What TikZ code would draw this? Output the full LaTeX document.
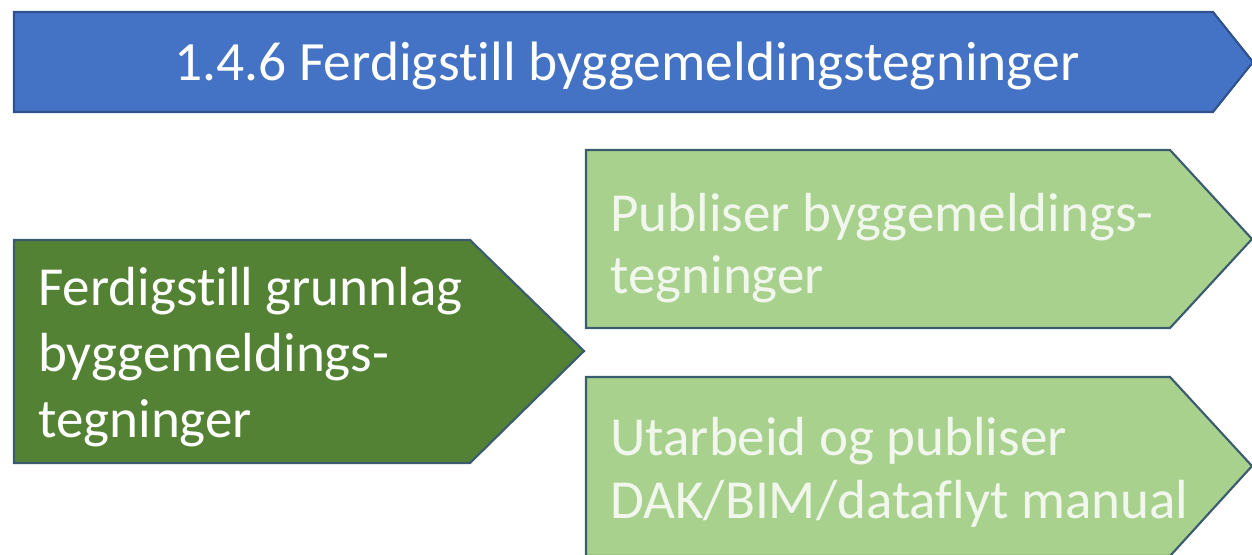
\documentclass[tikz,border=0pt]{standalone}
\usepackage{fontspec}
\setmainfont{Carlito}[Ligatures={NoCommon}]
\definecolor{hdrblue}{HTML}{4472C4}
\definecolor{hdredge}{HTML}{2F528F}
\definecolor{darkgreen}{HTML}{548235}
\definecolor{lightgreen}{HTML}{A9D18E}
\definecolor{greenedge}{HTML}{3B5C6E}
\definecolor{paletext}{HTML}{F2F7EE}
\begin{document}
\begin{tikzpicture}[x=0.75pt,y=-0.75pt,
  arrowbox/.style={line width=1.6pt,line join=miter},
  label/.style={inner sep=0pt,anchor=base west,align=left,
    font=\fontsize{41.3}{49}\selectfont}]
\useasboundingbox (0,0) rectangle (1252,554);
\begin{scope}
\clip (0,0) rectangle (1252,554);
% header arrow
\draw[arrowbox,fill=hdrblue,draw=hdredge]
  (14,12) -- (1213,12) -- (1253,62) -- (1213,112) -- (14,112) -- cycle;
% left step
\draw[arrowbox,fill=darkgreen,draw=greenedge]
  (14,240) -- (470,240) -- (584,351) -- (470,463) -- (14,463) -- cycle;
% right steps
\draw[arrowbox,fill=lightgreen,draw=greenedge]
  (586,150) -- (1170,150) -- (1252,239) -- (1170,328) -- (586,328) -- cycle;
\draw[arrowbox,fill=lightgreen,draw=greenedge]
  (586,377) -- (1170,377) -- (1252,466) -- (1170,556) -- (586,556) -- cycle;
\end{scope}
\node[inner sep=0pt,anchor=base,text=white,font=\fontsize{41.6}{49}\selectfont]
  (title) at (627,80) {1.4.6 Ferdigstill byggemeldingstegninger};
\node[label,text=white] (prep) at (38,305) {Ferdigstill grunnlag};
\node[label,text=white] (prep2) at (38,371) {byggemeldings-};
\node[label,text=white] (prep3) at (38,437) {tegninger};
\node[label,text=paletext] (pub) at (610,231) {Publiser byggemeldings-};
\node[label,text=paletext] (pub2) at (610,293) {tegninger};
\node[label,text=paletext] (man) at (610,455) {Utarbeid og publiser};
\node[label,text=paletext] (man2) at (610,518) {DAK/BIM/dataflyt manual};
\end{tikzpicture}
\end{document}
